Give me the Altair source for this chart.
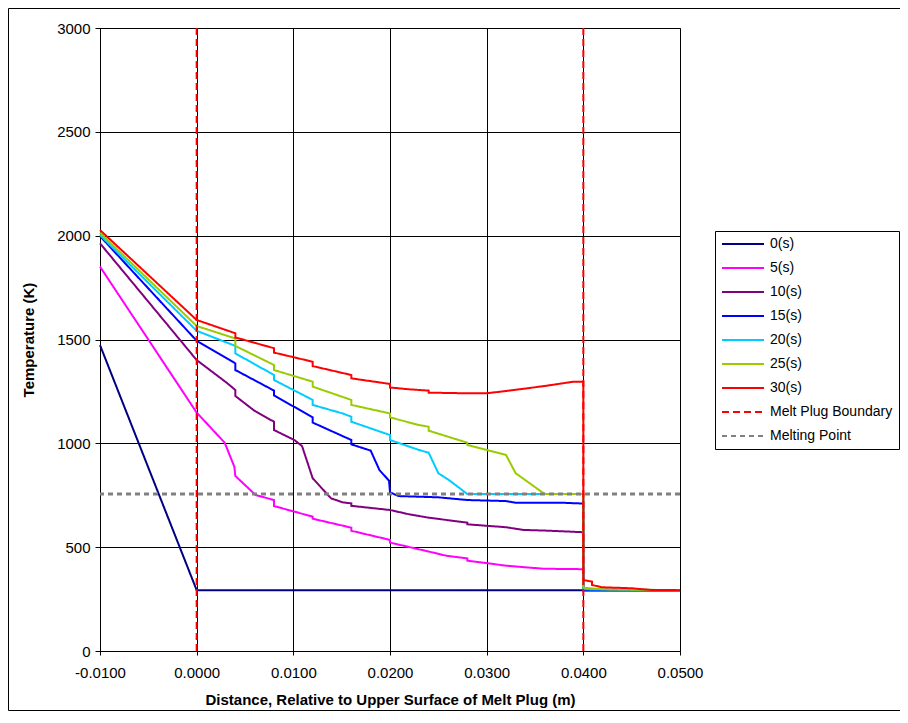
import altair as alt
import pandas as pd

# ---------------- data ----------------
series_names = ["0(s)", "5(s)", "10(s)", "15(s)", "20(s)", "25(s)", "30(s)"]
series_colors = ["#000080", "#FF00FF", "#800080", "#0000FF", "#00CCFF", "#99CC00", "#FF0000"]

x_0s = [-0.01, 0.0, 0.05]
t_0s = [1473, 293, 293]

x_5s = [-0.01, 0.0, 0.0029, 0.0039, 0.0040, 0.0061, 0.0080, 0.0080, 0.0120, 0.0120,
        0.0160, 0.0160, 0.0200, 0.0200, 0.0240, 0.0259, 0.0280, 0.0280, 0.0320, 0.0340,
        0.0360, 0.0400, 0.0400, 0.05]
t_5s = [1851, 1148, 1003, 887, 843, 751, 727, 698, 647, 637,
        594, 579, 535, 522, 479, 458, 446, 435, 411, 403,
        396, 394, 293, 293]

x_10s = [-0.01, 0.0, 0.0031, 0.0040, 0.0040, 0.0060, 0.0080, 0.0080, 0.0101, 0.0109,
         0.0120, 0.0139, 0.0151, 0.0160, 0.0160, 0.0200, 0.0220, 0.0240, 0.0280, 0.0280,
         0.0320, 0.0338, 0.0360, 0.0400, 0.0400, 0.05]
t_10s = [1963, 1401, 1292, 1257, 1228, 1156, 1104, 1064, 1016, 987,
         832, 735, 716, 711, 699, 679, 658, 642, 618, 610,
         596, 583, 580, 572, 293, 293]

x_15s = [-0.01, 0.0, 0.0040, 0.0040, 0.0080, 0.0080, 0.0120, 0.0120, 0.0160, 0.0160,
         0.0180, 0.0189, 0.0199, 0.0200, 0.0209, 0.0250, 0.0280, 0.0320, 0.0330, 0.0378,
         0.0400, 0.0400, 0.05]
t_15s = [1998, 1494, 1385, 1353, 1254, 1231, 1125, 1100, 1016, 995,
         965, 872, 820, 764, 746, 740, 727, 722, 714, 714,
         710, 293, 293]

x_20s = [-0.01, 0.0, 0.0040, 0.0040, 0.0080, 0.0080, 0.0120, 0.0120, 0.0151, 0.0160,
         0.0160, 0.0200, 0.0200, 0.0230, 0.0240, 0.0250, 0.0261, 0.0280, 0.0400, 0.0400,
         0.05]
t_20s = [2003, 1542, 1469, 1433, 1329, 1305, 1209, 1185, 1144, 1128,
         1104, 1040, 1016, 968, 955, 856, 823, 756, 756, 297,
         293]

x_25s = [-0.01, 0.0, 0.0040, 0.0040, 0.0080, 0.0080, 0.0120, 0.0120, 0.0160, 0.0160,
         0.0200, 0.0200, 0.0230, 0.0240, 0.0240, 0.0280, 0.0280, 0.0320, 0.0330, 0.0360,
         0.0400, 0.0400, 0.0420, 0.05]
t_25s = [2014, 1565, 1505, 1469, 1377, 1353, 1297, 1273, 1209, 1185,
         1144, 1125, 1088, 1080, 1061, 1003, 992, 944, 856, 756,
         756, 305, 297, 293]

x_30s = [-0.01, 0.0, 0.0040, 0.0040, 0.0080, 0.0080, 0.0120, 0.0120, 0.0160, 0.0160,
         0.0200, 0.0200, 0.0220, 0.0240, 0.0240, 0.0280, 0.0300, 0.0320, 0.0360, 0.0390,
         0.0400, 0.0400, 0.0409, 0.0409, 0.0419, 0.0450, 0.0470, 0.05]
t_30s = [2027, 1594, 1530, 1510, 1458, 1437, 1393, 1372, 1329, 1313,
         1286, 1269, 1260, 1254, 1244, 1241, 1241, 1252, 1276, 1297,
         1297, 342, 334, 318, 307, 302, 294, 293]

boundary_name = "Melt Plug Boundary"
boundary_x = [0.0, 0.04]
melting_name = "Melting Point"
melting_t = [756]

x_ticks = [-0.01, 0.0, 0.01, 0.02, 0.03, 0.04, 0.05]
y_ticks = [0, 500, 1000, 1500, 2000, 2500, 3000]

# ---------------- tables ----------------
all_x = [x_0s, x_5s, x_10s, x_15s, x_20s, x_25s, x_30s]
all_t = [t_0s, t_5s, t_10s, t_15s, t_20s, t_25s, t_30s]
rows = []
for name, xs_, ts_ in zip(series_names, all_x, all_t):
    for i, (xv, tv) in enumerate(zip(xs_, ts_)):
        rows.append({"series": name, "x": xv, "T": tv, "i": i})
df = pd.DataFrame(rows)
bdf = pd.DataFrame({"series": boundary_name, "x": boundary_x})
mdf = pd.DataFrame({"series": melting_name, "T": melting_t})

legend_domain = series_names + [boundary_name, melting_name]
legend_colors = series_colors + ["#FF0000", "#808080"]
legend_dashes = [[1, 0]] * 7 + [[7, 4], [5, 4]]

FONT = "Liberation Sans"

color_scale = alt.Scale(domain=legend_domain, range=legend_colors)
dash_scale = alt.Scale(domain=legend_domain, range=legend_dashes)

legend = alt.Legend(
    title=None, orient="none", legendX=615, legendY=203,
    symbolType="M-1,0H6", symbolSize=144, symbolStrokeWidth=2,
    labelOffset=35, rowPadding=10, padding=6,
    strokeColor="black", fillColor="white",
    labelFont=FONT, labelFontSize=14, labelColor="black", labelLimit=400,
)

x_axis = alt.Axis(
    values=x_ticks,
    labelExpr="(datum.value < -0.00001 ? '-' : '') + format(abs(datum.value), '.4f')",
    labelFlush=False,
    grid=True, gridColor="black", gridWidth=1,
    domainColor="black", tickColor="black", tickSize=4,
    labelFont=FONT, labelFontSize=15, labelColor="black", labelPadding=10,
    titleFont=FONT, titleFontSize=15, titleFontWeight="bold", titleColor="black",
    titlePadding=12,
)
y_axis = alt.Axis(
    values=y_ticks, format="d",
    grid=True, gridColor="black", gridWidth=1,
    domainColor="black", tickColor="black", tickSize=5,
    labelFont=FONT, labelFontSize=15, labelColor="black", labelPadding=5,
    titleFont=FONT, titleFontSize=15, titleFontWeight="bold", titleColor="black",
    titlePadding=20,
)

X_TITLE = "Distance, Relative to Upper Surface of Melt Plug (m)"
Y_TITLE = "Temperature (K)"
xs = alt.Scale(domain=[-0.01, 0.05], nice=False, zero=False)
ys = alt.Scale(domain=[0, 3000], nice=False)

x_enc = alt.X("x:Q", scale=xs, axis=x_axis, title=X_TITLE)
y_enc = alt.Y("T:Q", scale=ys, axis=y_axis, title=Y_TITLE)
c_enc = alt.Color("series:N", scale=color_scale, legend=legend)
d_enc = alt.StrokeDash("series:N", scale=dash_scale, legend=legend)

lines = alt.Chart(df).mark_line(strokeWidth=2).encode(
    x=x_enc, y=y_enc, color=c_enc, strokeDash=d_enc, order=alt.Order("i:Q")
)
bounds = alt.Chart(bdf).mark_rule(strokeWidth=2).encode(
    x=x_enc, color=c_enc, strokeDash=d_enc
)
melt = alt.Chart(mdf).mark_rule(strokeWidth=3).encode(
    y=y_enc, color=c_enc, strokeDash=d_enc
)
frame = alt.Chart(pd.DataFrame({"k": [0]})).mark_rect(
    fillOpacity=0, stroke="black", strokeWidth=1, clip=False
).encode(
    x=alt.value(-91.5), x2=alt.value(830), y=alt.value(-19.5), y2=alt.value(682.5)
)

chart = alt.layer(lines, bounds, melt, frame).properties(
    width=580, height=623,
    padding={"left": 92, "top": 20, "right": 220, "bottom": 60},
    autosize=alt.AutoSizeParams(type="none"),
    background="white",
).configure_view(stroke="#808080", strokeWidth=1)

chart.save("out.html", embed_options={"renderer": "svg", "actions": False})
